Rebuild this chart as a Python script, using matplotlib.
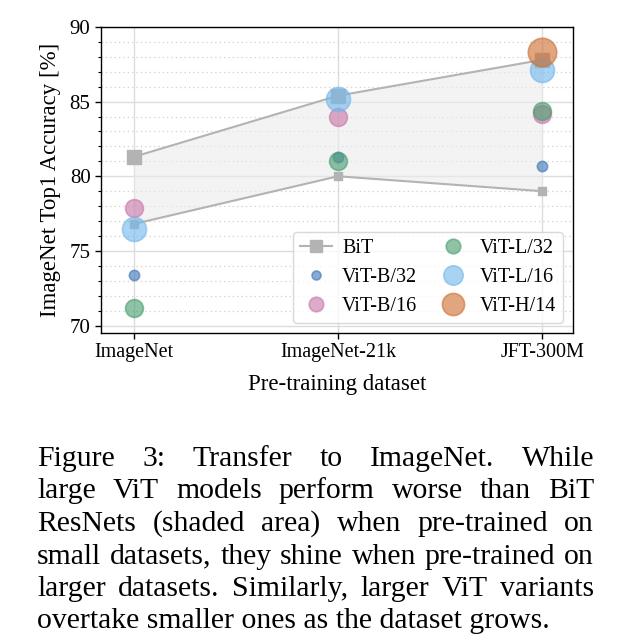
import matplotlib
matplotlib.use("Agg")
import matplotlib.pyplot as plt
import numpy as np
from matplotlib.ticker import MultipleLocator

plt.rcParams['font.family'] = ['Liberation Serif', 'DejaVu Serif']

# dane
datasets = ["ImageNet", "ImageNet-21k", "JFT-300M"]
bit_upper = [81.3, 85.4, 87.8]
bit_lower = [76.8, 80.0, 79.0]
vit_names = ["ViT-B/32", "ViT-B/16", "ViT-L/32", "ViT-L/16", "ViT-H/14"]
vit_b32 = [73.4, 81.3, 80.7]
vit_b16 = [77.9, 84.0, 84.15]
vit_l32 = [71.15, 81.05, 84.4]
vit_l16 = [76.5, 85.2, 87.1]
vit_h14 = [None, None, 88.3]

caption_lines = [
    "Figure 3:  Transfer to ImageNet.  While",
    "large ViT models perform worse than BiT",
    "ResNets (shaded area) when pre-trained on",
    "small datasets, they shine when pre-trained on",
    "larger datasets.  Similarly, larger ViT variants",
    "overtake smaller ones as the dataset grows.",
]

W, H = 622, 643
fig = plt.figure(figsize=(W / 100, H / 100), dpi=100)
ax = fig.add_axes([101 / W, 1 - 333 / H, (573 - 101) / W, (333 - 27) / H])

x = np.arange(len(datasets))
grey = "#b3b3b3"

ax.fill_between(x, bit_lower, bit_upper, color="#ececec", alpha=0.6, zorder=1, lw=0)
ax.plot(x, bit_upper, color=grey, lw=1.5, zorder=2)
ax.plot(x, bit_lower, color=grey, lw=1.5, zorder=2)
ax.scatter(x, bit_upper, marker="s", s=95, color=grey, zorder=2)
ax.scatter(x, bit_lower, marker="s", s=28, color=grey, zorder=2)

vit_series = [vit_b32, vit_b16, vit_l32, vit_l16, vit_h14]
colors = ["#3f78b8", "#c977aa", "#4a9e70", "#74b8ec", "#cf7033"]
sizes = [55, 165, 165, 300, 420]
leg_ms = [6.5, 10.5, 10.5, 14, 16]
for name, vals, c, s in zip(vit_names, vit_series, colors, sizes):
    xs = [i for i, v in enumerate(vals) if v is not None]
    ys = [v for v in vals if v is not None]
    ax.scatter(xs, ys, s=s, color=c, alpha=0.62, edgecolor=c, linewidth=1.2, zorder=3)

ax.set_xlim(-0.16, 2.15)
ax.set_ylim(69.5, 90)
ax.set_xticks(x)
ax.set_xticklabels(datasets, fontsize=14.5)
ax.yaxis.set_major_locator(MultipleLocator(5))
ax.yaxis.set_minor_locator(MultipleLocator(1))
ax.tick_params(axis='y', labelsize=15)
ax.tick_params(which='major', direction='out', length=4, width=1)
ax.tick_params(which='minor', direction='out', length=2, width=0.8)
ax.grid(True, which='major', color='#dcdcdc', lw=1.0, zorder=0)
ax.grid(True, which='minor', axis='y', color='#cfcfcf', lw=0.9, ls=(0, (1, 2.5)), zorder=0)
ax.set_axisbelow(True)
ax.set_xlabel("Pre-training dataset", fontsize=16.5, labelpad=8)
ax.set_ylabel("ImageNet Top1 Accuracy [%]", fontsize=16.5, labelpad=6)
for sp in ax.spines.values():
    sp.set_linewidth(1.0)

# legenda
handles = [plt.Line2D([], [], color=grey, lw=1.5, marker="s", ms=8)]
for c, m in zip(colors, leg_ms):
    handles.append(plt.Line2D([], [], ls="", marker="o", ms=m, color=c,
                              alpha=0.62, markeredgecolor=c, markeredgewidth=1.2))
labels = ["BiT"] + vit_names
leg = ax.legend(handles, labels, loc="lower right", ncol=2, fontsize=14.5,
                handlelength=1.6, columnspacing=1.0, labelspacing=0.48,
                borderpad=0.35, handletextpad=0.5, framealpha=0.8,
                borderaxespad=0, edgecolor="#d0d0d0",
                bbox_to_anchor=(0.979, 0.033))

# podpis - justowany tekst
fig.canvas.draw()
renderer = fig.canvas.get_renderer()
x_left, x_right = 37, 594
fs = 21.4
baselines = [466, 498.5, 531, 563.5, 596.5, 628.5]
for li, (line, yb) in enumerate(zip(caption_lines, baselines)):
    words = line.split()
    y_fig = 1 - yb / H
    if li == len(caption_lines) - 1:
        fig.text(x_left / W, y_fig, line, fontsize=fs, va="baseline", ha="left")
        continue
    texts = [fig.text(0, y_fig, w, fontsize=fs, va="baseline", ha="left") for w in words]
    widths = [t.get_window_extent(renderer).width for t in texts]
    gap = (x_right - x_left - sum(widths)) / (len(words) - 1)
    pos = x_left
    for t, w in zip(texts, widths):
        t.set_x(pos / W)
        pos += w + gap

fig.savefig("out.png", dpi=100)
